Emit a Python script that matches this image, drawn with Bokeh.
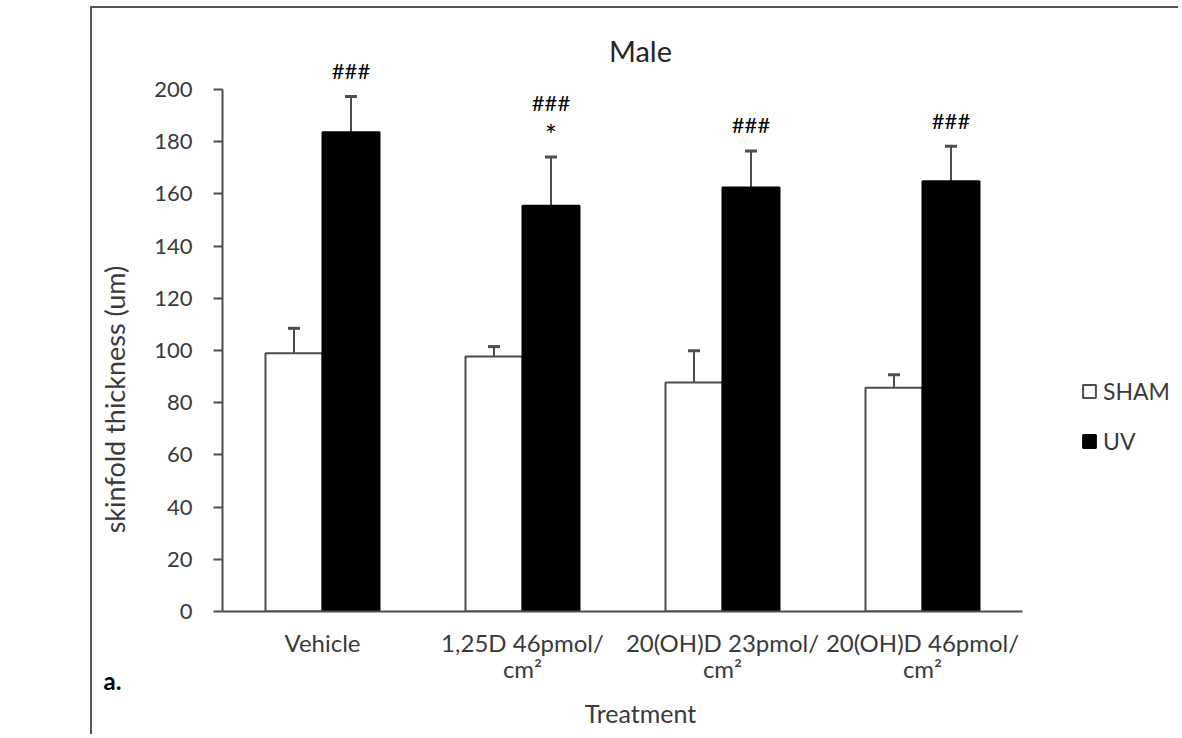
from bokeh.plotting import figure
from bokeh.models import (Range1d, FixedTicker, Legend, LegendItem,
                          Whisker, ColumnDataSource, TeeHead, Label)
from bokeh.core.properties import value
from bokeh.embed import file_html
from bokeh.resources import INLINE
from math import pi

# ---------------- data ----------------
categories = ["Vehicle", "1,25D 46pmol/\ncm\u00b2", "20(OH)D 23pmol/\ncm\u00b2", "20(OH)D 46pmol/\ncm\u00b2"]
sham = [98.9, 97.7, 87.7, 85.7]
sham_err = [9.6, 3.8, 12.2, 5.0]
uv = [183.6, 155.5, 162.5, 164.8]
uv_err = [13.7, 18.6, 13.9, 13.5]
uv_marks = [["###"], ["*", "###"], ["###"], ["###"]]   # listed bottom to top
y_ticks = [0, 20, 40, 60, 80, 100, 120, 140, 160, 180, 200]
title_text = "Male"
x_title = "Treatment"
y_title = "skinfold thickness (um)"
panel_tag = "a."

# ---------------- layout ----------------
W, H = 1088, 728
ML, MT, MB = 130, 22, 125
px_x = 200.0           # pixels per category
px_y = 2.61            # pixels per unit
frame_w = W - ML
x_end = frame_w / px_x
y_end = (H - MT - MB) / px_y
x_mid = 2.09           # horizontal centre used by the chart / axis titles

FONT = "Lato"
GREY = "#4d4d4d"
TXT = "#3a3a3a"

p = figure(width=W, height=H, x_range=Range1d(0, x_end), y_range=Range1d(0, y_end),
           output_backend="svg", toolbar_location=None,
           min_border_left=ML, min_border_right=0, min_border_top=MT, min_border_bottom=MB)
p.margin = (6, 0, 0, 90)
p.styles = {"border-left": "2px solid #555555", "border-top": "2px solid #555555"}
p.outline_line_color = None
p.xgrid.visible = False
p.ygrid.visible = False

n = len(categories)
centers = [i + 0.5 for i in range(n)]
off = 0.1425
bw = 0.285
xs_sham = [c - off for c in centers]
xs_uv = [c + off for c in centers]

src_s = ColumnDataSource(dict(x=xs_sham, top=sham, up=[a + b for a, b in zip(sham, sham_err)]))
src_u = ColumnDataSource(dict(x=xs_uv, top=uv, up=[a + b for a, b in zip(uv, uv_err)]))

r_s = p.vbar(x="x", top="top", width=bw, source=src_s, fill_color="white",
             line_color=GREY, line_width=2)
r_u = p.vbar(x="x", top="top", width=bw, source=src_u, fill_color="black",
             line_color="black", line_width=2)

for src in (src_s, src_u):
    p.add_layout(Whisker(base="x", lower="top", upper="up", source=src, dimension="height",
                         line_color=GREY, line_width=2,
                         upper_head=TeeHead(size=12, line_color=GREY, line_width=3),
                         lower_head=None))

# significance marks above UV bars
mx, my, mt, ms = [], [], [], []
for i, marks in enumerate(uv_marks):
    base = uv[i] + uv_err[i] + 10
    for k, m in enumerate(marks):
        mx.append(xs_uv[i])
        my.append(base + 11 * k - (1.5 if m == "*" else 0))
        mt.append(m)
        ms.append("28px" if m == "*" else "22px")
p.text(x="x", y="y", text="t", text_font_size="s",
       source=ColumnDataSource(dict(x=mx, y=my, t=mt, s=ms)),
       text_align="center", text_baseline="middle",
       text_font=value(FONT), text_color="black")

ya = p.yaxis[0]
ya.ticker = FixedTicker(ticks=y_ticks)
ya.bounds = (0, 200)
ya.axis_line_color = GREY
ya.axis_line_width = 2
ya.major_tick_line_color = GREY
ya.major_tick_line_width = 2
ya.major_tick_out = 9
ya.major_tick_in = 0
ya.minor_tick_line_color = None
ya.major_label_standoff = 21
ya.major_label_text_font = FONT
ya.major_label_text_font_size = "22px"
ya.major_label_text_color = TXT

xa = p.xaxis[0]
xa.ticker = FixedTicker(ticks=centers)
xa.major_label_overrides = {c: lab for c, lab in zip(centers, categories)}
xa.bounds = (0, n)
xa.axis_line_color = GREY
xa.axis_line_width = 2
xa.major_tick_line_color = None
xa.major_tick_out = 0
xa.major_tick_in = 0
xa.minor_tick_line_color = None
xa.major_label_standoff = 16
xa.major_label_text_font = FONT
xa.major_label_text_font_size = "24px"
xa.major_label_text_line_height = 0.9
xa.major_label_text_color = TXT

# chart title inside the top of the frame
p.add_layout(Label(x=x_mid, y=215, text=title_text, text_align="center",
                   text_baseline="middle", text_font=FONT, text_font_size="29px",
                   text_color="#262626"))

# axis titles and panel tag placed in the margins
p.add_layout(Label(x=x_mid, y=-38.7, text=x_title, text_align="center",
                   text_baseline="middle", text_font=FONT, text_font_size="25px",
                   text_color=TXT), "below")
p.add_layout(Label(x=-0.54, y=81.2, text=y_title, angle=pi / 2, text_align="center",
                   text_baseline="middle", text_font=FONT, text_font_size="27px",
                   text_color=TXT), "left")
p.add_layout(Label(x=-0.55, y=-26.5, text=panel_tag, text_align="center",
                   text_baseline="middle", text_font=FONT, text_font_size="24px",
                   text_font_style="bold", text_color="black"), "left")

legend = Legend(items=[LegendItem(label="SHAM", renderers=[r_s]),
                       LegendItem(label="UV", renderers=[r_u])],
                location=(859, 156), orientation="vertical",
                glyph_width=16, glyph_height=16, label_standoff=6, spacing=22,
                padding=0, margin=0, border_line_color=None, background_fill_alpha=0,
                label_text_font=FONT, label_text_font_size="23px", label_text_color=TXT)
p.add_layout(legend)

open("out.html", "w").write(file_html(p, INLINE))
